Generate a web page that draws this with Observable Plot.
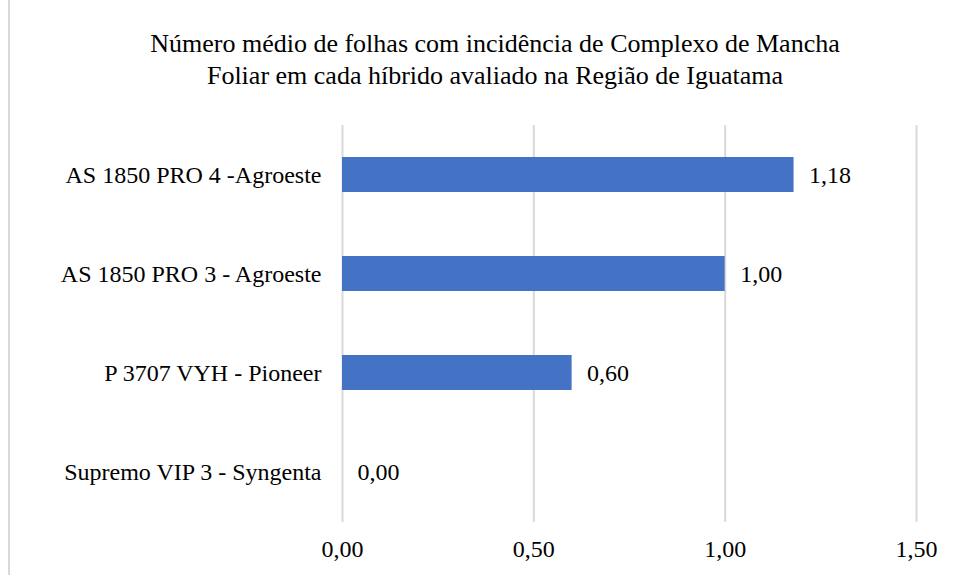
<!DOCTYPE html>
<html>
<head>
<meta charset="utf-8">
<script src="https://cdn.jsdelivr.net/npm/d3@7"></script>
<script src="https://cdn.jsdelivr.net/npm/@observablehq/plot@0.6"></script>
<style>
  html, body { margin: 0; padding: 0; background: #fff; }
  #wrap { position: relative; width: 958px; height: 575px; overflow: hidden; font-family: "Liberation Serif", "Times New Roman", serif; }
  #title { position: absolute; left: 0; top: 28px; width: 990px; text-align: center; font-size: 26px; line-height: 32px; color: #000; }
  #border { position: absolute; left: 8px; top: 0; width: 1.5px; height: 575px; background: #d9d9d9; }
  #chart { position: absolute; left: 0; top: 0; }
</style>
</head>
<body>
<div id="wrap">
  <div id="border"></div>
  <div id="chart"></div>
  <div id="title">Número médio de folhas com incidência de Complexo de Mancha<br>Foliar em cada híbrido avaliado na Região de Iguatama</div>
</div>
<script>
const categories = ["AS 1850 PRO 4 -Agroeste", "AS 1850 PRO 3 - Agroeste", "P 3707 VYH - Pioneer", "Supremo VIP 3 - Syngenta"];
const values = [1.18, 1.00, 0.60, 0.00];
const xTicks = [0, 0.5, 1.0, 1.5];

const data = categories.map((c, i) => ({ name: c, value: values[i] }));
const fmt = v => v.toFixed(2).replace(".", ",");

const chart = Plot.plot({
  width: 958,
  height: 575,
  marginTop: 125,
  marginBottom: 53,
  marginLeft: 342,
  marginRight: 42,
  style: { fontFamily: "'Liberation Serif', 'Times New Roman', serif", fontSize: "24px", color: "#000", background: "transparent" },
  x: { domain: [0, 1.5] },
  y: { domain: categories, paddingInner: 0.645, paddingOuter: 0.3225 },
  marks: [
    Plot.ruleX(xTicks, { stroke: "#d9d9d9", strokeWidth: 2 }),
    Plot.barX(data, { x: "value", y: "name", fill: "#4472C4" }),
    Plot.text(data, { x: "value", y: "name", text: d => fmt(d.value), textAnchor: "start", dx: 15, fontSize: 24, fill: "#000" }),
    Plot.axisX({ ticks: xTicks, tickFormat: fmt, tickSize: 0, tickPadding: 17, fontSize: 24, label: null }),
    Plot.axisY({ tickSize: 0, tickPadding: 21, fontSize: 24, label: null })
  ]
});
document.getElementById("chart").appendChild(chart);
</script>
</body>
</html>
